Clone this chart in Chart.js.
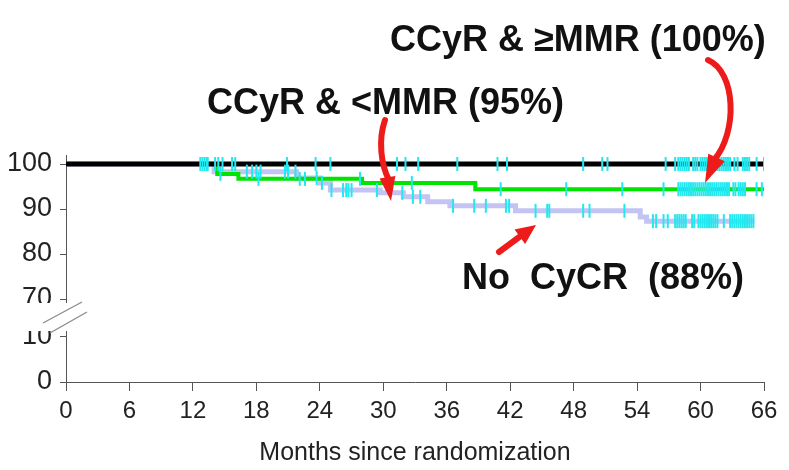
<!DOCTYPE html>
<html>
<head>
<meta charset="utf-8">
<script src="https://cdn.jsdelivr.net/npm/chart.js@4.4.1/dist/chart.umd.min.js"></script>
<style>
  html, body { margin: 0; padding: 0; background: #fff; }
</style>
</head>
<body>
<canvas id="kmChart" width="789" height="470"></canvas>
<script>
// x axis ticks (months) and y axis tick labels (%)
const monthTicks = [0, 6, 12, 18, 24, 30, 36, 42, 48, 54, 60, 66];
const survTicks = [0, 10, 70, 80, 90, 100];
// values under the axis break are shifted up by this much
const BREAK_OFFSET = 51.56;

// CCyR & >=MMR
const mmrTimes = [0, 66];
const mmrSurv = [100, 100];
const mmrCensor = [12.7, 12.9, 13.1, 13.3, 13.4, 14.1, 14.4, 14.8, 15.7, 16.0, 20.9, 23.6, 25.0,
  31.3, 32.1, 33.3, 37.0, 40.8, 41.7, 48.9, 50.7, 51.2, 56.7, 57.6, 57.9, 58.1, 58.3, 58.5,
  58.7, 58.9, 59.3, 59.5, 59.7, 60.0, 60.2, 60.4, 60.6, 60.8, 61.0, 61.2, 61.4, 61.6, 61.8,
  62.0, 62.2, 62.4, 62.6, 62.8, 63.2, 63.5, 64.0, 64.2, 64.4, 64.6, 65.3, 66.0];

// CCyR & <MMR
const lessTimes = [0, 14.3, 16.3, 28.0, 38.7, 66];
const lessSurv = [100, 97.8, 96.7, 95.8, 94.4, 94.4];
const lessCensor = [14.6, 18.2, 22.1, 22.6, 27.8, 32.7, 41.1, 47.3, 52.6, 56.5, 57.9, 58.1,
  58.3, 58.5, 58.7, 58.9, 59.1, 59.3, 59.5, 59.7, 59.9, 60.1, 60.3, 60.5, 60.7, 60.9, 61.1,
  61.3, 61.5, 61.7, 61.9, 62.1, 62.3, 62.5, 62.7, 63.1, 63.3, 63.6, 63.8, 64.0, 64.2, 65.3, 65.8];

// No CyCR
const noneTimes = [0, 14.0, 21.8, 24.0, 25.0, 29.7, 31.9, 34.2, 36.3, 42.5, 54.3, 54.9, 65.1];
const noneSurv = [100, 98.3, 96.9, 95.8, 94.2, 93.6, 92.7, 91.6, 90.7, 89.6, 88.2, 87.3, 87.3];
const noneCensor = [17.1, 17.6, 18.0, 18.4, 20.7, 21.0, 21.7, 23.7, 24.2, 25.1, 26.2, 26.5,
  26.7, 27.0, 29.4, 31.8, 32.8, 33.5, 36.6, 38.6, 39.7, 41.6, 41.9, 44.4, 45.5, 45.7, 48.9,
  49.5, 52.8, 55.5, 55.8, 56.5, 56.9, 57.6, 57.8, 58.0, 58.2, 58.4, 58.6, 59.2, 59.4, 59.8,
  60.0, 60.2, 60.4, 60.6, 60.8, 61.0, 61.2, 61.4, 61.6, 62.2, 62.8, 63.0, 63.2, 63.4, 63.6,
  63.8, 64.0, 64.2, 64.4, 64.6, 64.8, 65.0];

const CYAN = '#22e8f0';

function disp(v) { return v < 40 ? v + BREAK_OFFSET : v; }

function curve(times, surv) {
  return times.map((t, i) => ({ x: t, y: disp(surv[i]) }));
}

// censored marks sit on the curve at their time
function censorPoints(marks, times, surv) {
  return marks.map(t => {
    let k = 0;
    for (let i = 0; i < times.length; i++) if (times[i] <= t) k = i;
    return { x: t, y: disp(surv[k]) };
  });
}

function tickSet(color) {
  return {
    type: 'scatter', showLine: false, pointStyle: 'line', rotation: 90,
    pointRadius: 7, pointBorderWidth: 2, pointBorderColor: color, pointBackgroundColor: color,
    borderColor: color, order: 0
  };
}

const breakMark = {
  id: 'breakMark',
  afterDraw(chart) {
    const { ctx, scales: { y } } = chart;
    const top = y.getPixelForValue(70) + 4;
    const bot = y.getPixelForValue(disp(10)) - 6;
    ctx.save();
    ctx.fillStyle = '#fff';
    ctx.fillRect(0, top, y.right + 3, bot - top);
    ctx.strokeStyle = '#8a8a8a';
    ctx.lineWidth = 1.3;
    ctx.beginPath();
    ctx.moveTo(y.right - 23, top + 20); ctx.lineTo(y.right + 16, top - 1);
    ctx.moveTo(y.right - 16, top + 30); ctx.lineTo(y.right + 21, top + 9);
    ctx.stroke();
    ctx.restore();
  }
};

function arrowHead(ctx, tx, ty, dx, dy, len, half) {
  const n = Math.hypot(dx, dy); dx /= n; dy /= n;
  const bx = tx - dx * len, by = ty - dy * len;
  ctx.beginPath();
  ctx.moveTo(tx, ty);
  ctx.lineTo(bx - dy * half, by + dx * half);
  ctx.lineTo(bx + dy * half, by - dx * half);
  ctx.closePath();
  ctx.fill();
}

const labels = {
  id: 'labels',
  afterDraw(chart) {
    const ctx = chart.ctx;
    ctx.save();
    ctx.fillStyle = '#111';
    ctx.font = 'bold 36px "Liberation Sans", Arial, sans-serif';
    ctx.textBaseline = 'alphabetic';
    ctx.textAlign = 'left';
    ctx.fillText('CCyR & \u2265MMR (100%)', 390, 51);
    ctx.fillText('CCyR & <MMR (95%)', 207, 114);
    ctx.fillText('No  CyCR  (88%)', 462, 289);

    ctx.strokeStyle = '#ee1b1b';
    ctx.fillStyle = '#ee1b1b';
    ctx.lineWidth = 6;
    ctx.lineCap = 'round';
    // to CCyR & >=MMR curve
    ctx.beginPath();
    ctx.moveTo(708, 60);
    ctx.bezierCurveTo(736, 72, 738, 132, 714, 160);
    ctx.stroke();
    arrowHead(ctx, 705, 183, -0.45, 1, 28, 9);
    // to CCyR & <MMR curve
    ctx.beginPath();
    ctx.moveTo(385, 120);
    ctx.bezierCurveTo(378, 140, 381, 165, 389, 180);
    ctx.stroke();
    arrowHead(ctx, 391, 201, 0.15, 1, 24, 8);
    // to No CyCR curve
    ctx.beginPath();
    ctx.moveTo(499, 252);
    ctx.lineTo(522, 235);
    ctx.stroke();
    arrowHead(ctx, 536, 225, 0.81, -0.59, 20, 9);
    ctx.restore();
  }
};

new Chart(document.getElementById('kmChart'), {
  type: 'line',
  data: {
    datasets: [
      Object.assign({ data: censorPoints(mmrCensor, mmrTimes, mmrSurv) }, tickSet(CYAN)),
      Object.assign({ data: censorPoints(lessCensor, lessTimes, lessSurv) }, tickSet(CYAN)),
      Object.assign({ data: censorPoints(noneCensor, noneTimes, noneSurv) }, tickSet(CYAN)),
      { data: curve(mmrTimes, mmrSurv), borderColor: '#000', borderWidth: 5, stepped: true,
        pointRadius: 0, fill: false, order: 1 },
      { data: curve(lessTimes, lessSurv), borderColor: '#00e400', borderWidth: 4, stepped: true,
        pointRadius: 0, fill: false, order: 2 },
      { data: curve(noneTimes, noneSurv), borderColor: '#c4c4f4', borderWidth: 5, stepped: true,
        pointRadius: 0, fill: false, order: 3 }
    ]
  },
  options: {
    responsive: false,
    animation: false,
    layout: { padding: { left: 0, right: 25, top: 155, bottom: 0 } },
    plugins: { legend: { display: false }, tooltip: { enabled: false } },
    scales: {
      x: {
        type: 'linear', min: 0, max: 66,
        afterBuildTicks: s => { s.ticks = monthTicks.map(v => ({ value: v })); },
        afterFit: s => { s.height = 88; },
        grid: { drawOnChartArea: false, drawTicks: true, tickLength: 9, color: '#555' },
        border: { color: '#555', width: 1 },
        ticks: { color: '#222', padding: 6, maxRotation: 0, autoSkip: false,
          font: { family: '"Liberation Sans", Arial, sans-serif', size: 24 } },
        title: { display: true, text: 'Months since randomization', color: '#222',
          padding: { top: 0, bottom: 2 },
          font: { family: '"Liberation Sans", Arial, sans-serif', size: 25 } }
      },
      y: {
        type: 'linear', min: disp(0), max: 102,
        afterBuildTicks: s => { s.ticks = survTicks.map(v => ({ value: disp(v) })); },
        afterFit: s => { s.width = 66; },
        grid: { drawOnChartArea: false, drawTicks: true, tickLength: 6, color: '#555' },
        border: { color: '#555', width: 1 },
        ticks: {
          color: '#222', padding: 8, autoSkip: false,
          font: { family: '"Liberation Sans", Arial, sans-serif', size: 27 },
          callback: v => {
            const t = survTicks.find(s => Math.abs(disp(s) - v) < 0.01);
            return t === undefined ? '' : String(t);
          }
        }
      }
    }
  },
  plugins: [breakMark, labels]
});
</script>
</body>
</html>
